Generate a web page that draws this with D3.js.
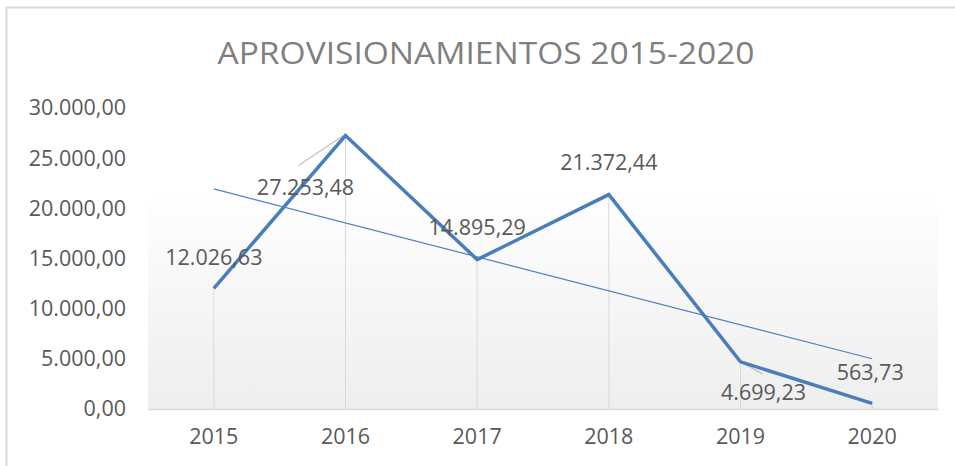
<!DOCTYPE html>
<html>
<head>
<meta charset="utf-8">
<script src="https://cdn.jsdelivr.net/npm/d3@7"></script>
<style>
  body { margin: 0; background: #fff; }
  text { font-family: "Open Sans", sans-serif; fill: #595959; }
</style>
</head>
<body>
<svg id="chart"></svg>
<script>
const years = ["2015", "2016", "2017", "2018", "2019", "2020"];
const values = [12026.63, 27253.48, 14895.29, 21372.44, 4699.23, 563.73];
const yTicks = [0, 5000, 10000, 15000, 20000, 25000, 30000];
// label offsets relative to the point (dx, dy)
const labelOffsets = [[0, -31], [-40, 52], [0, -32], [0, -32], [23, 31], [-2, -31]];

const width = 955, height = 466,
      margin = {top: 108, right: 15, bottom: 57, left: 148};

const svg = d3.select("#chart")
    .attr("width", width)
    .attr("height", height);

const defs = svg.append("defs");
const grad = defs.append("linearGradient")
    .attr("id", "bg").attr("x1", 0).attr("y1", 0).attr("x2", 0).attr("y2", 1);
grad.append("stop").attr("offset", "0%").attr("stop-color", "#ffffff");
grad.append("stop").attr("offset", "20%").attr("stop-color", "#ffffff");
grad.append("stop").attr("offset", "100%").attr("stop-color", "#eeeeee");

// chart frame
svg.append("rect")
    .attr("x", 6.5).attr("y", 7.5)
    .attr("width", width + 10).attr("height", height + 10)
    .attr("fill", "none").attr("stroke", "#d9d9d9").attr("stroke-width", 2);

const x = d3.scaleBand()
    .domain(years)
    .range([margin.left, width - margin.right - 2]);

const y = d3.scaleLinear()
    .domain([0, 30000])
    .range([height - margin.bottom, margin.top]);

const cx = d => x(d) + x.bandwidth() / 2;
const fmt = d3.formatLocale({decimal: ",", thousands: ".", grouping: [3], currency: ["", "€"]}).format(",.2f");

// plot background
svg.append("rect")
    .attr("x", x.range()[0]).attr("y", y(30000) + 20)
    .attr("width", x.range()[1] - x.range()[0])
    .attr("height", y(0) - y(30000) - 20)
    .attr("fill", "url(#bg)");

// title
svg.append("text")
    .attr("x", 486).attr("y", 64)
    .attr("text-anchor", "middle")
    .attr("textLength", 537).attr("lengthAdjust", "spacingAndGlyphs")
    .style("font-size", "31px").style("fill", "#7f7f7f")
    .text("APROVISIONAMIENTOS  2015-2020");

// y axis
const yAxis = svg.append("g")
    .attr("transform", `translate(${margin.left},0)`)
    .call(d3.axisLeft(y).tickValues(yTicks).tickFormat(fmt).tickSize(0).tickPadding(22));
yAxis.select(".domain").remove();
yAxis.selectAll("text").style("font-size", "21.5px").style("fill", "#595959");

// x axis
const xAxis = svg.append("g")
    .attr("transform", `translate(0,${y(0)})`)
    .call(d3.axisBottom(x).tickSize(0).tickPadding(20));
xAxis.select(".domain").attr("stroke", "#d9d9d9").attr("stroke-width", 1.5);
xAxis.selectAll("text").style("font-size", "21.5px").style("fill", "#595959");

// drop lines
svg.selectAll(".drop")
    .data(years)
    .enter().append("line")
    .attr("class", "drop")
    .attr("x1", d => cx(d)).attr("x2", d => cx(d))
    .attr("y1", (d, i) => y(values[i])).attr("y2", y(0))
    .attr("stroke", "#d9d9d9").attr("stroke-width", 1);

// trend line (linear regression)
const n = values.length;
const xs = d3.range(1, n + 1);
const mx = d3.mean(xs), my = d3.mean(values);
const slope = d3.sum(xs, (v, i) => (v - mx) * (values[i] - my)) / d3.sum(xs, v => (v - mx) ** 2);
const icpt = my - slope * mx;
svg.append("line")
    .attr("x1", cx(years[0])).attr("y1", y(icpt + slope * 1))
    .attr("x2", cx(years[n - 1])).attr("y2", y(icpt + slope * n))
    .attr("stroke", "#4f81bd").attr("stroke-width", 1.2);

// leader lines
svg.append("line")
    .attr("x1", cx("2016") - 47).attr("y1", y(values[1]) + 30)
    .attr("x2", cx("2016") - 2).attr("y2", y(values[1]))
    .attr("stroke", "#bfbfbf").attr("stroke-width", 1.2);
svg.append("line")
    .attr("x1", cx("2019")).attr("y1", y(values[4]))
    .attr("x2", cx("2019") + 22).attr("y2", y(values[4]) + 12)
    .attr("stroke", "#bfbfbf").attr("stroke-width", 1.2);

// main line
const line = d3.line()
    .x((d, i) => cx(years[i]))
    .y(d => y(d));
svg.append("path")
    .datum(values)
    .attr("d", line)
    .attr("fill", "none")
    .attr("stroke", "#4a7ebb")
    .attr("stroke-width", 3.5)
    .attr("stroke-linejoin", "miter");

// data labels
svg.selectAll(".lbl")
    .data(values)
    .enter().append("text")
    .attr("class", "lbl")
    .attr("x", (d, i) => cx(years[i]) + labelOffsets[i][0])
    .attr("y", (d, i) => y(d) + labelOffsets[i][1])
    .attr("dy", "0.35em")
    .attr("text-anchor", "middle")
    .style("font-size", "21.5px")
    .text(d => fmt(d));
</script>
</body>
</html>
